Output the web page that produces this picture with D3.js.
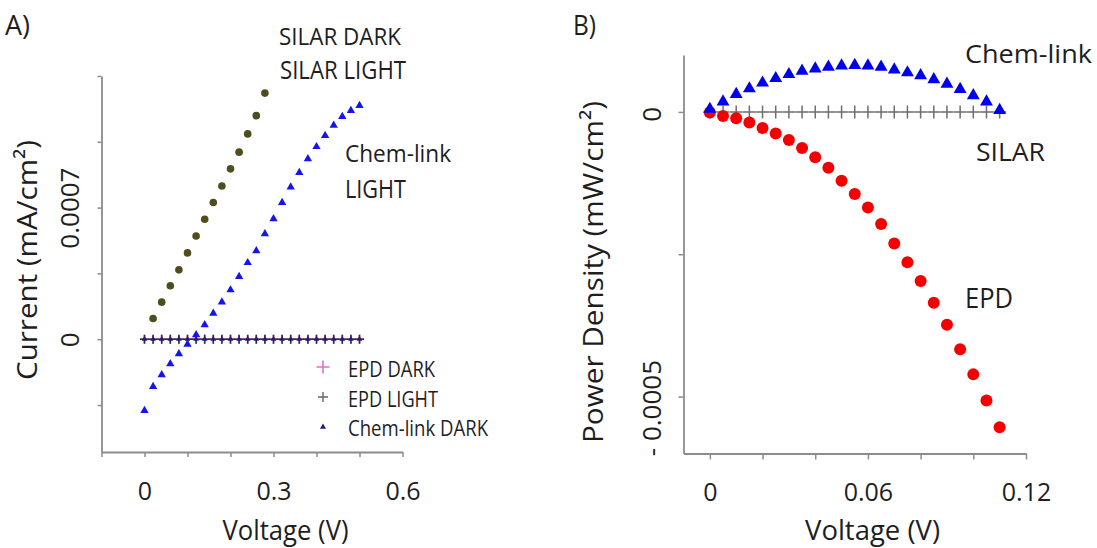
<!DOCTYPE html>
<html>
<head>
<meta charset="utf-8">
<script src="https://cdn.jsdelivr.net/npm/d3@7"></script>
<style>
body { margin: 0; background: #fff; }
text { font-family: "Open Sans", sans-serif; fill: #1e1e1e; }
</style>
</head>
<body>
<div id="chart"></div>
<script>
// ---- panel A : current vs voltage ----
const voltageA = [0, 0.02, 0.04, 0.06, 0.08, 0.10, 0.12, 0.14, 0.16, 0.18, 0.20, 0.22, 0.24,
    0.26, 0.28, 0.30, 0.32, 0.34, 0.36, 0.38, 0.40, 0.42, 0.44, 0.46, 0.48, 0.50];
const voltageSilar = [0.02, 0.04, 0.06, 0.08, 0.10, 0.12, 0.14, 0.16, 0.18, 0.20, 0.22, 0.24, 0.26, 0.28];
const silarLight = [0.000110, 0.000197, 0.000284, 0.000369, 0.000459, 0.000549, 0.000638,
    0.000727, 0.000815, 0.000906, 0.000995, 0.001092, 0.001189, 0.001309];
const chemLinkLight = [-0.000380, -0.000252, -0.000190, -0.000131, -0.000078, -0.000027, 0.000023,
    0.000076, 0.000138, 0.000197, 0.000262, 0.000333, 0.000407, 0.000470, 0.000560, 0.000640,
    0.000727, 0.000809, 0.000886, 0.000959, 0.001024, 0.001083, 0.001138, 0.001184, 0.001216, 0.001243];
const epdDark = [0, 0, 0, 0, 0, 0, 0, 0, 0, 0, 0, 0, 0, 0, 0, 0, 0, 0, 0, 0, 0, 0, 0, 0, 0, 0];
const epdLight = [0, 0, 0, 0, 0, 0, 0, 0, 0, 0, 0, 0, 0, 0, 0, 0, 0, 0, 0, 0, 0, 0, 0, 0, 0, 0];
const chemLinkDark = [0, 0, 0, 0, 0, 0, 0, 0, 0, 0, 0, 0, 0, 0, 0, 0, 0, 0, 0, 0, 0, 0, 0, 0, 0, 0];

const xTicksA = [-0.1, 0, 0.1, 0.2, 0.3, 0.4, 0.5, 0.6];
const xLabelsA = [0, 0.3, 0.6];
const yTicksA = [-0.00035, 0, 0.00035, 0.0007, 0.00105, 0.0014];
const yLabelsA = [0, 0.0007];

// ---- panel B : power density vs voltage ----
const voltageB = [0, 0.005, 0.01, 0.015, 0.02, 0.025, 0.03, 0.035, 0.04, 0.045, 0.05, 0.055,
    0.06, 0.065, 0.07, 0.075, 0.08, 0.085, 0.09, 0.095, 0.10, 0.105, 0.11];
const chemLinkPower = [0.000005, 0.000018, 0.000031, 0.000041, 0.000051, 0.000059, 0.000066,
    0.000072, 0.000076, 0.000079, 0.000081, 0.000082, 0.000081, 0.000079, 0.000074, 0.000069,
    0.000064, 0.000057, 0.000049, 0.000040, 0.000029, 0.000018, 0.000003];
const epdPower = [-0.0000012, -0.0000070, -0.000011, -0.0000186, -0.0000284, -0.0000378, -0.0000492,
    -0.0000632, -0.0000795, -0.0000979, -0.000121, -0.000144, -0.000168, -0.000197, -0.000231,
    -0.000264, -0.000297, -0.000335, -0.000374, -0.000417, -0.000461, -0.000507, -0.000554];
const silarPower = [0, 0, 0, 0, 0, 0, 0, 0, 0, 0, 0, 0, 0, 0, 0, 0, 0, 0, 0, 0, 0, 0, 0];

const xTicksB = [0, 0.02, 0.04, 0.06, 0.08, 0.10, 0.12];
const xLabelsB = [0, 0.06, 0.12];
const yTicksB = [-0.0005, -0.00025, 0];
const yLabelsB = [0, -0.0005];

const svg = d3.select("#chart").append("svg")
    .attr("width", 1097)
    .attr("height", 548);

const axisColor = "#8c8c8c";

const plus = s => `M${-s},0H${s}M0,${-s}V${s}`;
const tri = size => d3.symbol().type(d3.symbolTriangle).size(size)();

// text helper, len = target width
function label(x, y, str, size, len, anchor, rot) {
    const t = svg.append("text")
        .attr("x", rot ? 0 : x)
        .attr("y", rot ? 0 : y)
        .attr("text-anchor", anchor || "start")
        .style("font-size", size + "px")
        .text(str);
    if (rot) t.attr("transform", `translate(${x},${y}) rotate(-90)`);
    if (len) t.attr("textLength", len).attr("lengthAdjust", "spacingAndGlyphs");
    return t;
}

function styleAxis(g) {
    g.attr("font-size", null).attr("font-family", null);
    g.select(".domain").attr("stroke", axisColor).attr("stroke-width", 1.8);
    g.selectAll(".tick line").attr("stroke", axisColor).attr("stroke-width", 1.5);
    g.selectAll(".tick text").style("font-size", "25px").attr("fill", "#1e1e1e");
}

// ================= panel A =================
const xA = d3.scaleLinear().domain([-0.1, 0.6]).range([101.5, 402.5]);
const yA = d3.scaleLinear().domain([-0.0006, 0.0014]).range([452, 76]);

const gxA = svg.append("g")
    .attr("transform", "translate(0," + yA(-0.0006) + ")")
    .call(d3.axisBottom(xA).tickValues(xTicksA).tickSize(5).tickSizeOuter(0)
        .tickFormat(d => xLabelsA.includes(d) ? String(d) : ""));
styleAxis(gxA);
gxA.selectAll(".tick text").attr("y", 48).attr("dy", null);

const gyA = svg.append("g")
    .attr("transform", "translate(" + xA(-0.1) + ",0)")
    .call(d3.axisLeft(yA).tickValues(yTicksA).tickSize(4).tickSizeOuter(0)
        .tickFormat(d => yLabelsA.includes(d) ? String(d) : ""));
styleAxis(gyA);
gyA.selectAll(".tick text")
    .attr("x", null).attr("dy", null)
    .attr("text-anchor", "middle")
    .style("font-size", "26px")
    .attr("transform", "translate(-23,0) rotate(-90)");

// zero-current series
const plotA = svg.append("g");
plotA.selectAll(".epdDark").data(voltageA).enter().append("path")
    .attr("d", plus(4.5))
    .attr("transform", (d, i) => `translate(${xA(d)},${yA(epdDark[i])})`)
    .attr("stroke", "#e060c8").attr("stroke-width", 1.8).attr("fill", "none");
plotA.selectAll(".epdLight").data(voltageA).enter().append("path")
    .attr("d", plus(4.5))
    .attr("transform", (d, i) => `translate(${xA(d)},${yA(epdLight[i])})`)
    .attr("stroke", "#333").attr("stroke-width", 1.5).attr("fill", "none");
plotA.selectAll(".chemDark").data(voltageA).enter().append("path")
    .attr("d", tri(14))
    .attr("transform", (d, i) => `translate(${xA(d)},${yA(chemLinkDark[i])})`)
    .attr("fill", "#1e1e78");

plotA.selectAll(".silar").data(voltageSilar).enter().append("circle")
    .attr("cx", d => xA(d))
    .attr("cy", (d, i) => yA(silarLight[i]))
    .attr("r", 3.8)
    .attr("fill", "#4d4d20");

plotA.selectAll(".chemLight").data(voltageA).enter().append("path")
    .attr("d", tri(30))
    .attr("transform", (d, i) => `translate(${xA(d)},${yA(chemLinkLight[i])})`)
    .attr("fill", "#1414f0");

// legend (A)
svg.append("path").attr("d", plus(6.5)).attr("transform", "translate(323,367)")
    .attr("stroke", "#e070d0").attr("stroke-width", 1.6).attr("fill", "none");
svg.append("path").attr("d", plus(5)).attr("transform", "translate(323,397)")
    .attr("stroke", "#666").attr("stroke-width", 1.4).attr("fill", "none");
svg.append("path").attr("d", tri(16)).attr("transform", "translate(323,427)")
    .attr("fill", "#1e1e78");
label(348, 377, "EPD DARK", 22, 87);
label(348, 407, "EPD LIGHT", 22, 90);
label(348, 436, "Chem-link DARK", 22, 140);

label(279, 45, "SILAR DARK", 24, 122);
label(280, 79, "SILAR LIGHT", 25, 126);
label(345, 162, "Chem-link", 23, 106);
label(345, 198, "LIGHT", 25, 61);

label(5, 35, "A)", 28, 25);
label(285.5, 540, "Voltage (V)", 27, 126, "middle");
label(37, 260, "Current (mA/cm\u00B2)", 28, 240, "middle", true);

// ================= panel B =================
const xB = d3.scaleLinear().domain([-0.01, 0.12]).range([683.5, 1026]);
const yB = d3.scaleLinear().domain([-0.0006, 0.0001]).range([453.5, 55]);

const gxB = svg.append("g")
    .attr("transform", "translate(0," + yB(-0.0006) + ")")
    .call(d3.axisBottom(xB).tickValues(xTicksB).tickSize(6).tickSizeOuter(0)
        .tickFormat(d => xLabelsB.includes(d) ? String(d) : ""));
styleAxis(gxB);
gxB.selectAll(".tick text").attr("y", 47).attr("dy", null);

const gyB = svg.append("g")
    .attr("transform", "translate(" + xB(-0.01) + ",0)")
    .call(d3.axisLeft(yB).tickValues(yTicksB).tickSize(5).tickSizeOuter(0)
        .tickFormat(d => yLabelsB.includes(d) ? (d === 0 ? "0" : "- " + Math.abs(d)) : ""));
styleAxis(gyB);
gyB.selectAll(".tick text")
    .attr("x", null).attr("dy", null)
    .attr("text-anchor", "middle")
    .style("font-size", "26px")
    .attr("transform", d => `translate(-23,${d === 0 ? 2 : 11}) rotate(-90)`);

const plotB = svg.append("g");
plotB.selectAll(".silarP").data(voltageB).enter().append("path")
    .attr("d", plus(6.5))
    .attr("transform", (d, i) => `translate(${xB(d)},${yB(silarPower[i])})`)
    .attr("stroke", "#6e6e6e").attr("stroke-width", 1.5).attr("fill", "none");
plotB.selectAll(".epdP").data(voltageB).enter().append("circle")
    .attr("cx", d => xB(d))
    .attr("cy", (d, i) => yB(epdPower[i]))
    .attr("r", 6)
    .attr("fill", "#f50000");
plotB.selectAll(".chemP").data(voltageB).enter().append("path")
    .attr("d", tri(72))
    .attr("transform", (d, i) => `translate(${xB(d)},${yB(chemLinkPower[i])})`)
    .attr("fill", "#0000ee");

label(965, 63, "Chem-link", 26, 127);
label(976, 161, "SILAR", 26, 69);
label(965, 308, "EPD", 27, 48);

label(573, 35, "B)", 28, 23);
label(872.5, 540, "Voltage (V)", 27, 135, "middle");
label(603, 272, "Power Density (mW/cm\u00B2)", 28, 342, "middle", true);
</script>
</body>
</html>
